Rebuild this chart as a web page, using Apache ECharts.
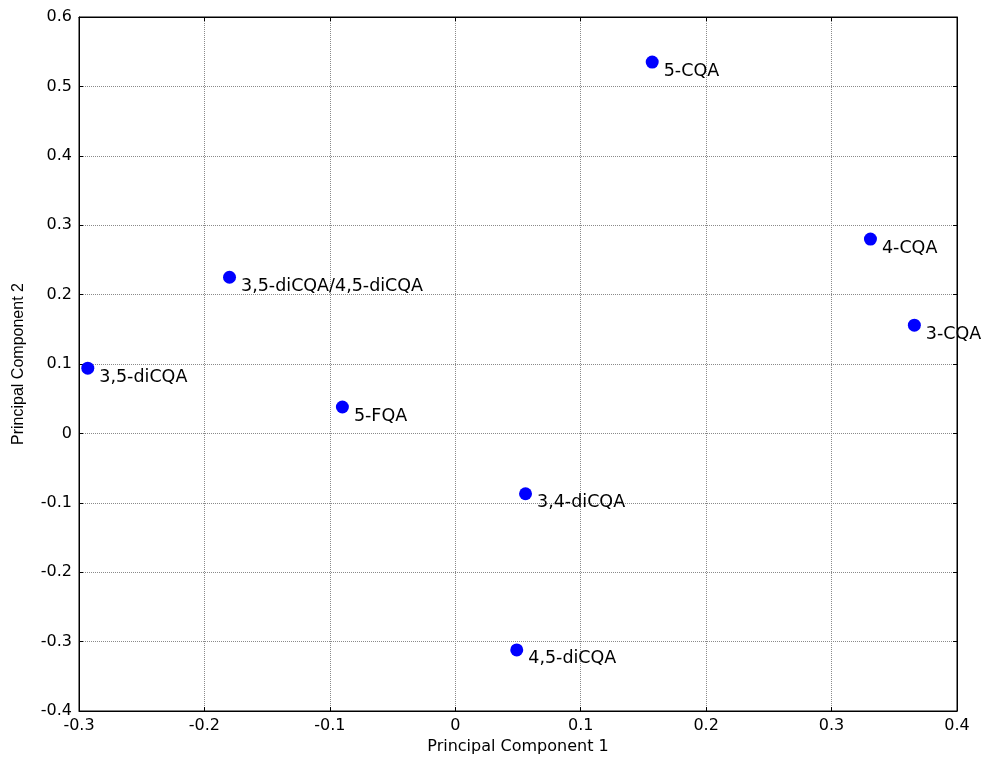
<!DOCTYPE html>
<html>
<head>
<meta charset="utf-8">
<script src="https://cdn.jsdelivr.net/npm/echarts@6/dist/echarts.min.js"></script>
<style>
  html, body { margin: 0; padding: 0; background: #fff; }
  #chart { width: 986px; height: 767px; }
</style>
</head>
<body>
<div id="chart"></div>
<script>
// PCA scores of the compounds (PC1, PC2)
const compoundNames = ['5-CQA', '4-CQA', '3-CQA', '3,5-diCQA/4,5-diCQA', '3,5-diCQA', '5-FQA', '3,4-diCQA', '4,5-diCQA'];
const pc1Values = [0.157, 0.331, 0.366, -0.180, -0.293, -0.090, 0.056, 0.049];
const pc2Values = [0.535, 0.280, 0.156, 0.225, 0.094, 0.038, -0.087, -0.312];

const xAxisTitle = 'Principal Component 1';
const yAxisTitle = 'Principal Component 2';

const wideFont = 'DejaVu Sans, sans-serif';
const narrowFont = 'Liberation Sans, Arial, sans-serif';
const fmt = v => String(Math.round(v * 10) / 10);

const points = compoundNames.map((n, i) => ({ name: n, value: [pc1Values[i], pc2Values[i]] }));

const baseAxis = {
  axisLine: { show: true, onZero: false, lineStyle: { color: '#000', width: 1 } },
  axisTick: { show: true, inside: true, length: 4, lineStyle: { color: '#000' } },
};
const gridLine = { show: true, lineStyle: { color: '#8a8a8a', type: [1, 1], width: 1 } };

const chart = echarts.init(document.getElementById('chart'), null, { renderer: 'canvas' });
chart.setOption({
  animation: false,
  backgroundColor: '#fff',
  grid: { left: 79, right: 29, top: 17, bottom: 56, show: true, borderColor: '#000', borderWidth: 1 },
  xAxis: [
    Object.assign({}, baseAxis, {
      type: 'value', min: -0.3, max: 0.4, interval: 0.1, position: 'bottom',
      name: xAxisTitle, nameLocation: 'middle', nameGap: 27,
      nameTextStyle: { color: '#000', fontSize: 16, fontFamily: wideFont },
      axisLabel: { color: '#000', fontSize: 16, fontFamily: wideFont, margin: 7, formatter: fmt },
      splitLine: gridLine
    }),
    Object.assign({}, baseAxis, {
      type: 'value', min: -0.3, max: 0.4, interval: 0.1, position: 'top',
      axisLabel: { show: false }, splitLine: { show: false }
    })
  ],
  yAxis: [
    Object.assign({}, baseAxis, {
      type: 'value', min: -0.4, max: 0.6, interval: 0.1, position: 'left',
      name: yAxisTitle, nameLocation: 'middle', nameGap: 52,
      nameTextStyle: { color: '#000', fontSize: 16, fontFamily: narrowFont },
      axisLabel: { color: '#000', fontSize: 16, fontFamily: wideFont, margin: 7, formatter: fmt },
      splitLine: gridLine
    }),
    Object.assign({}, baseAxis, {
      type: 'value', min: -0.4, max: 0.6, interval: 0.1, position: 'right',
      axisLabel: { show: false }, splitLine: { show: false }
    })
  ],
  series: [{
    type: 'scatter',
    xAxisIndex: 0, yAxisIndex: 0,
    data: points,
    symbol: 'circle',
    symbolSize: 13,
    itemStyle: { color: '#0000ff', opacity: 1 },
    label: {
      show: true,
      position: 'right',
      formatter: p => p.name,
      color: '#000',
      fontSize: 17.5,
      fontFamily: wideFont,
      distance: 5,
      offset: [0, 9]
    }
  }]
});
</script>
</body>
</html>
